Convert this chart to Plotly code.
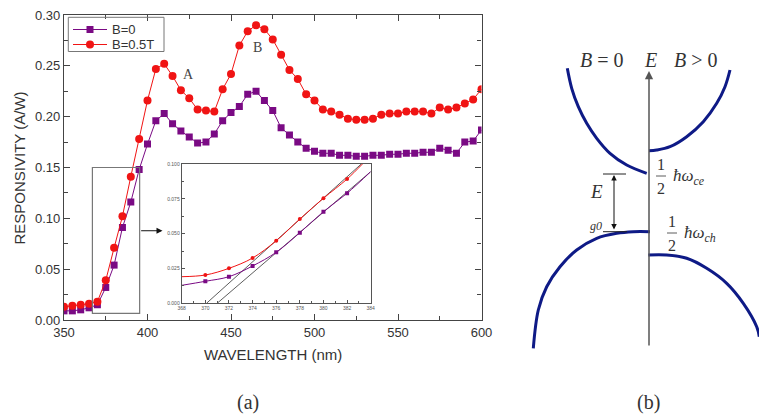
import plotly.graph_objects as go

W, H = 759, 417

# ---------------- data ----------------
wavelength = [350, 355, 360, 365, 370, 375, 380, 385, 390, 395,
              400, 405, 410, 415, 420, 425, 430, 435, 440, 445,
              450, 455, 460, 465, 470, 475, 480, 485, 490, 495,
              500, 505, 510, 515, 520, 525, 530, 535, 540, 545,
              550, 555, 560, 565, 570, 575, 580, 585, 590, 595, 600]
resp_b0 = [0.009, 0.009, 0.010, 0.012, 0.015, 0.032, 0.054, 0.091, 0.116, 0.148,
           0.173, 0.196, 0.203, 0.193, 0.186, 0.180, 0.174, 0.175, 0.183, 0.196,
           0.204, 0.210, 0.222, 0.225, 0.216, 0.206, 0.189, 0.182, 0.175, 0.169,
           0.166, 0.164, 0.164, 0.162, 0.162, 0.161, 0.161, 0.162, 0.162, 0.163,
           0.163, 0.164, 0.164, 0.165, 0.165, 0.169, 0.167, 0.164, 0.175, 0.176, 0.187]
resp_b05 = [0.013, 0.014, 0.015, 0.016, 0.018, 0.039, 0.071, 0.102, 0.141, 0.178,
            0.216, 0.247, 0.252, 0.240, 0.226, 0.218, 0.207, 0.206, 0.205, 0.227,
            0.242, 0.270, 0.284, 0.290, 0.286, 0.276, 0.261, 0.246, 0.237, 0.222,
            0.216, 0.207, 0.205, 0.202, 0.198, 0.197, 0.197, 0.198, 0.202, 0.203,
            0.203, 0.205, 0.205, 0.205, 0.203, 0.209, 0.207, 0.209, 0.213, 0.217, 0.227]
series_names = ["B=0", "B=0.5T"]

x_tick_vals = [350, 400, 450, 500, 550, 600]
y_tick_vals = [0.00, 0.05, 0.10, 0.15, 0.20, 0.25, 0.30]

# inset (zoom on the absorption edge)
inset_wl = [370, 372, 374, 376, 378, 380, 382]
inset_b05 = [0.0203, 0.0251, 0.0325, 0.0449, 0.0605, 0.0754, 0.0892]
inset_b0 = [0.0158, 0.0191, 0.0268, 0.0366, 0.0507, 0.0658, 0.0790]
inset_curve_wl_b05 = [368, 370, 372, 374, 376, 378, 380, 382, 383.3]
inset_curve_b05 = [0.0191, 0.0203, 0.0251, 0.0325, 0.0449, 0.0605, 0.0754, 0.0892, 0.1000]
inset_curve_wl_b0 = [368, 370, 372, 374, 376, 378, 380, 382, 384]
inset_curve_b0 = [0.0129, 0.0158, 0.0191, 0.0268, 0.0366, 0.0507, 0.0658, 0.0790, 0.0945]
fit_wl_b05 = [370.1, 383.2]
fit_b05 = [0.0, 0.100]
fit_wl_b0 = [371.0, 384.0]
fit_b0 = [0.0, 0.0945]
inset_x_ticks = [368, 370, 372, 374, 376, 378, 380, 382, 384]
inset_y_ticks = [0.000, 0.025, 0.050, 0.075, 0.100]

# panel (b) schematic band curves (page pixel coordinates)
cb_b0_x = [567.3, 571.7, 578.3, 586.7, 596.7, 610.0, 626.7, 646.7]
cb_b0_y = [68.3, 88.3, 106.7, 123.3, 138.3, 153.3, 165.0, 173.3]
cb_b_x = [649.0, 656.7, 670.0, 686.7, 703.3, 716.7, 725.0, 730.0]
cb_b_y = [150.7, 150.0, 146.7, 136.7, 121.7, 103.3, 86.7, 70.0]
vb_b0_x = [533.3, 538.3, 546.7, 560.0, 576.7, 596.7, 616.7, 633.3, 650.0]
vb_b0_y = [348.3, 310.0, 286.7, 266.7, 250.0, 238.3, 233.3, 231.7, 231.7]
vb_b_x = [648.3, 666.7, 686.7, 706.7, 726.7, 743.3, 756.7, 759.3]
vb_b_y = [255.0, 255.0, 258.3, 268.3, 283.3, 303.3, 326.7, 336.7]

# ---------------- styles ----------------
RED = "#f01414"
PURPLE = "#7a0a84"
NAVY = "#0e1a86"
AXC = "#444444"
TXT = "#333333"
SANS = "Liberation Sans, Arial, sans-serif"
SERIF = "Liberation Serif, Times New Roman, serif"

fig = go.Figure()

# main traces
fig.add_trace(go.Scatter(x=wavelength, y=resp_b0, mode="lines+markers", name=series_names[0],
                         line=dict(color=PURPLE, width=1),
                         marker=dict(symbol="square", size=7, color=PURPLE),
                         xaxis="x", yaxis="y", showlegend=False))
fig.add_trace(go.Scatter(x=wavelength, y=resp_b05, mode="lines+markers", name=series_names[1],
                         line=dict(color=RED, width=1),
                         marker=dict(symbol="circle", size=8, color=RED),
                         xaxis="x", yaxis="y", showlegend=False))

# inset traces
fig.add_trace(go.Scatter(x=fit_wl_b05, y=fit_b05, mode="lines", line=dict(color="#333", width=0.8),
                         xaxis="x2", yaxis="y2", showlegend=False))
fig.add_trace(go.Scatter(x=fit_wl_b0, y=fit_b0, mode="lines", line=dict(color="#333", width=0.8),
                         xaxis="x2", yaxis="y2", showlegend=False))
fig.add_trace(go.Scatter(x=inset_curve_wl_b05, y=inset_curve_b05, mode="lines",
                         line=dict(color=RED, width=1, shape="spline"),
                         xaxis="x2", yaxis="y2", showlegend=False))
fig.add_trace(go.Scatter(x=inset_curve_wl_b0, y=inset_curve_b0, mode="lines",
                         line=dict(color=PURPLE, width=1, shape="spline"),
                         xaxis="x2", yaxis="y2", showlegend=False))
fig.add_trace(go.Scatter(x=inset_wl, y=inset_b05, mode="markers",
                         marker=dict(symbol="circle", size=4, color=RED),
                         xaxis="x2", yaxis="y2", showlegend=False))
fig.add_trace(go.Scatter(x=inset_wl, y=inset_b0, mode="markers",
                         marker=dict(symbol="square", size=4, color=PURPLE),
                         xaxis="x2", yaxis="y2", showlegend=False))

# manual legend (page pixel overlay axes)
leg_rows = [29.5, 44.5]
leg_colors = [PURPLE, RED]
leg_symbols = ["square", "circle"]
leg_sizes = [7, 8]
for name, ry, c, sym, sz in zip(series_names, leg_rows, leg_colors, leg_symbols, leg_sizes):
    fig.add_trace(go.Scatter(x=[73, 107], y=[ry, ry], mode="lines", line=dict(color=c, width=1),
                             xaxis="x3", yaxis="y3", showlegend=False, hoverinfo="skip"))
    fig.add_trace(go.Scatter(x=[90], y=[ry], mode="markers", marker=dict(symbol=sym, size=sz, color=c),
                             xaxis="x3", yaxis="y3", showlegend=False, hoverinfo="skip"))

# panel (b) curves
for cx, cy in [(cb_b0_x, cb_b0_y), (cb_b_x, cb_b_y), (vb_b0_x, vb_b0_y), (vb_b_x, vb_b_y)]:
    fig.add_trace(go.Scatter(x=cx, y=cy, mode="lines",
                             line=dict(color=NAVY, width=3, shape="spline", smoothing=1.0),
                             xaxis="x3", yaxis="y3", showlegend=False, hoverinfo="skip"))

ann = []
shapes = []


def px_text(x, y, text, size, family=SERIF, color=TXT, xanchor="center", angle=0):
    ann.append(dict(x=x, y=y, xref="x3", yref="y3", text=text, showarrow=False,
                    font=dict(family=family, size=size, color=color),
                    xanchor=xanchor, yanchor="middle", textangle=angle))


def px_line(x0, y0, x1, y1, color="#222", width=1):
    shapes.append(dict(type="line", xref="x3", yref="y3", x0=x0, y0=y0, x1=x1, y1=y1,
                       line=dict(color=color, width=width)))


# legend box and labels
shapes.append(dict(type="rect", xref="x3", yref="y3", x0=68.3, y0=17.3, x1=164, y1=51.5,
                   line=dict(color="#777", width=1)))
for name, ry in zip(series_names, leg_rows):
    px_text(110, ry, name, 13, family=SANS, xanchor="left")

# axis titles
px_text(272.5, 354, "WAVELENGTH (nm)", 15, family=SANS)
px_text(18.5, 168, "RESPONSIVITY (A/W)", 15, family=SANS, angle=-90)

# peak labels
ann.append(dict(x=424.4, y=0.241, xref="x", yref="y", text="A", showarrow=False,
                font=dict(family=SERIF, size=14, color="#444")))
ann.append(dict(x=466, y=0.268, xref="x", yref="y", text="B", showarrow=False,
                font=dict(family=SERIF, size=14, color="#444")))

# zoom rectangle + arrow in main panel
shapes.append(dict(type="rect", xref="x", yref="y", x0=367, y0=0.0066, x1=395.3, y1=0.150,
                   line=dict(color="#777", width=1.2)))
ann.append(dict(x=409, y=0.0878, ax=395.3, ay=0.0878, xref="x", yref="y", axref="x", ayref="y",
                text="", showarrow=True, arrowhead=2, arrowsize=1.2, arrowwidth=1, arrowcolor="#111"))

# panel labels
px_text(247.5, 402, "(a)", 20)
px_text(648, 402, "(b)", 20)

# panel (b): energy axis
ann.append(dict(x=649, y=71, ax=649, ay=347, xref="x3", yref="y3", axref="x3", ayref="y3",
                text="", showarrow=True, arrowhead=2, arrowsize=1.1, arrowwidth=1.5, arrowcolor="#555"))
px_text(601.7, 60, "<i>B</i> = 0", 20)
px_text(650, 60, "<i>E</i>", 20)
px_text(695.5, 60, "<i>B</i> > 0", 20)

# Eg0 bracket
px_line(603, 174, 626, 174, color="#222", width=1)
px_line(603, 231.7, 627, 231.7, color="#222", width=1)
ann.append(dict(x=614, y=175, ax=614, ay=231, xref="x3", yref="y3", axref="x3", ayref="y3",
                text="", showarrow=True, arrowhead=2, startarrowhead=2, arrowside="end+start",
                arrowsize=1.1, arrowwidth=1, arrowcolor="#111"))
px_text(596.7, 191, "<i>E</i>", 19)
px_text(596, 226, "<i>g0</i>", 12)

# 1/2 ħω_ce
px_text(660.7, 164, "1", 16)
px_line(656, 176, 666, 176, color="#333", width=0.8)
px_text(660.7, 188.5, "2", 16)
px_text(671, 177, "<i>ħω</i><sub><i>ce</i></sub>", 17, xanchor="left")

# 1/2 ħω_ch
px_text(671.7, 221, "1", 16)
px_line(667, 233, 677, 233, color="#333", width=0.8)
px_text(671.7, 245.5, "2", 16)
px_text(681.5, 234, "<i>ħω</i><sub><i>ch</i></sub>", 17, xanchor="left")

axis_common = dict(showline=True, linecolor=AXC, linewidth=1.3, mirror="allticks",
                   ticks="inside", ticklen=6, tickcolor=AXC, showgrid=False, zeroline=False,
                   automargin=False, tickfont=dict(family=SANS, size=13, color=TXT))

fig.update_layout(
    template="none",
    width=W, height=H,
    margin=dict(l=0, r=0, t=0, b=0, pad=0, autoexpand=False),
    paper_bgcolor="white", plot_bgcolor="rgba(0,0,0,0)",
    showlegend=False,
    xaxis=dict(domain=[64 / W, 481.5 / W], anchor="y", range=[350, 600],
               tickvals=x_tick_vals,
               minor=dict(dtick=25, tick0=350, ticks="inside", ticklen=4, tickcolor=AXC),
               **axis_common),
    yaxis=dict(domain=[1 - 320 / H, 1 - 15 / H], anchor="x", range=[0, 0.30],
               tickvals=y_tick_vals, tickformat=".2f",
               minor=dict(dtick=0.025, tick0=0, ticks="inside", ticklen=4, tickcolor=AXC),
               **axis_common),
    xaxis2=dict(domain=[181.7 / W, 370.7 / W], anchor="y2", range=[368, 384],
                tickvals=inset_x_ticks, showline=True, linecolor="#555", linewidth=1,
                mirror=True, ticks="inside", ticklen=3, tickcolor="#555", showgrid=False,
                zeroline=False, automargin=False, tickfont=dict(family=SANS, size=5, color="#555"),
                minor=dict(dtick=1, tick0=368, ticks="inside", ticklen=2, tickcolor="#555")),
    yaxis2=dict(domain=[1 - 303.3 / H, 1 - 164 / H], anchor="x2", range=[0, 0.1],
                tickvals=inset_y_ticks, tickformat=".3f", showline=True, linecolor="#555",
                linewidth=1, mirror=True, ticks="inside", ticklen=3, tickcolor="#555",
                showgrid=False, zeroline=False, automargin=False,
                tickfont=dict(family=SANS, size=5, color="#555"),
                minor=dict(dtick=0.0125, tick0=0, ticks="inside", ticklen=2, tickcolor="#555")),
    xaxis3=dict(domain=[0, 1], anchor="y3", range=[0, W], visible=False, fixedrange=True,
                automargin=False),
    yaxis3=dict(domain=[0, 1], anchor="x3", range=[H, 0], visible=False, fixedrange=True,
                automargin=False),
    annotations=ann,
    shapes=shapes,
)

fig.write_html("out.html", config={"displayModeBar": False},
               post_script="document.body.style.margin='0';document.body.style.overflow='hidden';")
